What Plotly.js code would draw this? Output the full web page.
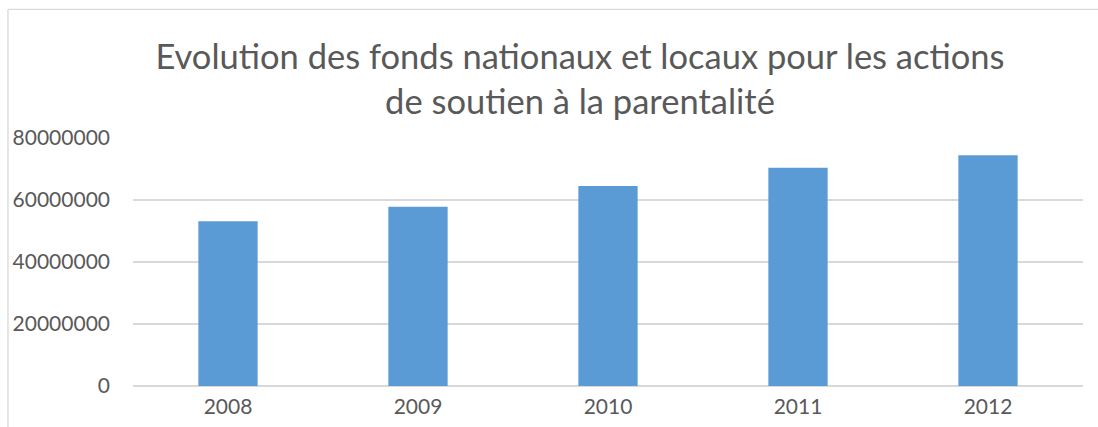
<!DOCTYPE html>
<html>
<head>
<meta charset="utf-8">
<script src="https://cdn.plot.ly/plotly-3.0.1.min.js"></script>
<style>html,body{margin:0;padding:0;background:#fff;}#chart{width:1098px;height:427px;}</style>
</head>
<body>
<div id="chart"></div>
<script>
const years = ['2008', '2009', '2010', '2011', '2012'];
const fonds = [53150000, 57800000, 64500000, 70400000, 74400000];
const yTicks = [0, 20000000, 40000000, 60000000, 80000000];
const yTickLabels = ['0', '20000000', '40000000', '60000000', '80000000'];
const titleText = 'Evolution des fonds nationaux et locaux pour les actions<br>de soutien à la parentalité';

const textColor = '#595959';
const gridColor = '#d9d9d9';
const fontFam = 'Lato, "Open Sans", sans-serif';

Plotly.newPlot('chart', [{
  type: 'bar',
  x: years,
  y: fonds,
  marker: {color: '#5b9bd5'},
  hoverinfo: 'x+y'
}], {
  width: 1098,
  height: 427,
  margin: {l: 133, r: 15, t: 138, b: 41, pad: 0},
  paper_bgcolor: '#ffffff',
  plot_bgcolor: '#ffffff',
  bargap: 0.688,
  showlegend: false,
  title: {
    text: titleText,
    font: {family: fontFam, size: 34.5, color: textColor},
    x: 0.4705, xref: 'paper', xanchor: 'center',
    y: 67, yref: 'container', yanchor: 'middle'
  },
  xaxis: {
    type: 'category',
    showgrid: false,
    showline: false,
    zeroline: false,
    ticks: '',
    ticklabelstandoff: 6,
    tickfont: {family: fontFam, size: 21, color: textColor}
  },
  yaxis: {
    range: [0, 80000000],
    tickvals: yTicks,
    ticktext: yTickLabels,
    showgrid: true,
    gridcolor: gridColor,
    gridwidth: 1.3,
    zeroline: true,
    zerolinecolor: gridColor,
    zerolinewidth: 1.3,
    showline: false,
    ticks: '',
    ticklabelstandoff: 22,
    tickfont: {family: fontFam, size: 21, color: textColor}
  },
  shapes: [
    {type: 'line', xref: 'paper', yref: 'paper', x0: -0.1316, x1: -0.1316, y0: 1.5186, y1: -0.2, line: {color: gridColor, width: 1.3}},
    {type: 'line', xref: 'paper', yref: 'paper', x0: -0.1316, x1: 1.02, y0: 1.5186, y1: 1.5186, line: {color: gridColor, width: 1.3}}
  ]
}, {displayModeBar: false, staticPlot: true});
</script>
</body>
</html>
